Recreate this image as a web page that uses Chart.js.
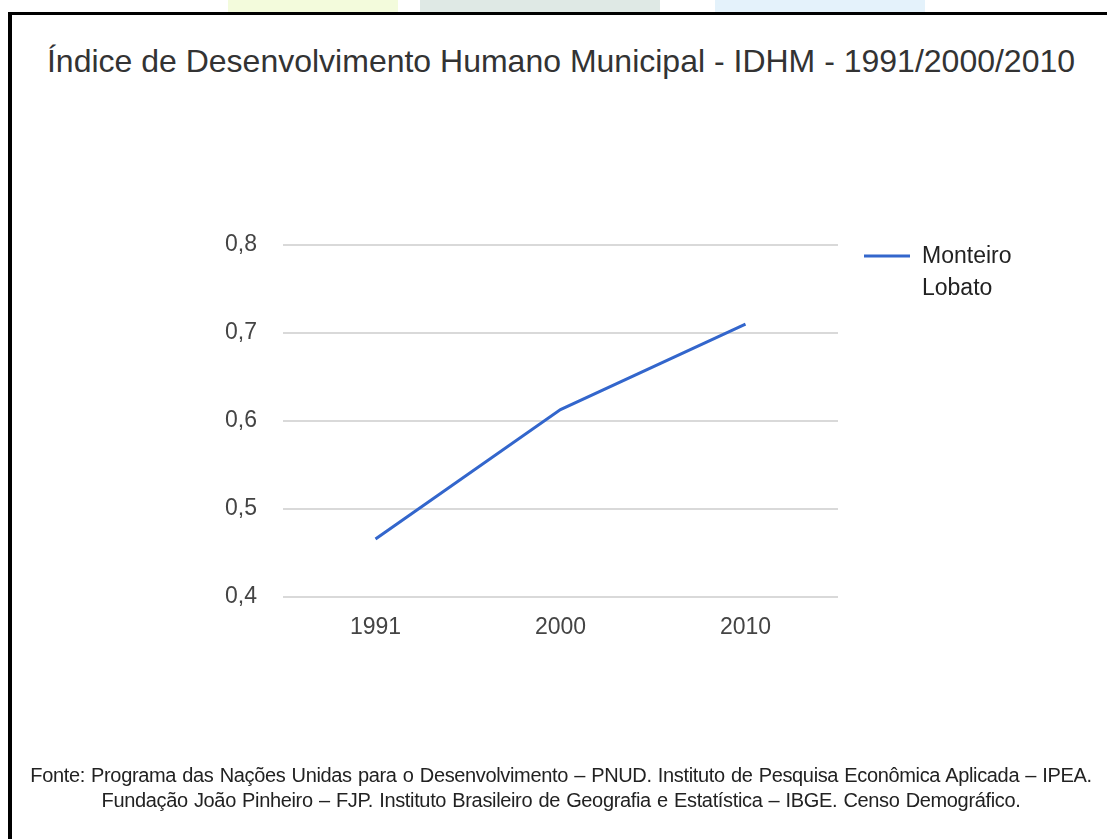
<!DOCTYPE html>
<html lang="pt-BR">

<head>
    <meta charset="UTF-8">
    <title>IDHM - Monteiro Lobato</title>
    <script src="https://cdn.jsdelivr.net/npm/chart.js"></script>
    <style>
        html, body { margin: 0; padding: 0; background: #fff; }
        body { width: 1107px; height: 839px; position: relative; overflow: hidden; font-family: "Liberation Sans", Arial, sans-serif; }
        /* faint shapes peeking above the frame */
        .blob { position: absolute; top: -30px; height: 60px; border-radius: 50% 50% 0 0; }
        .frame { position: absolute; left: 8px; top: 12px; right: 0; bottom: 0; border-top: 3px solid #000; border-left: 4px solid #000; background: #fff; }
        #title { position: absolute; left: 0; width: 1122px; top: 43px; text-align: center; font-size: 32px; line-height: 37px; color: #333; letter-spacing: 0px; }
        #fonte { position: absolute; left: 0; width: 1122px; top: 763px; text-align: center; font-size: 20px; line-height: 25px; color: #222; letter-spacing: -0.35px; word-spacing: 1px; }
        canvas { position: absolute; left: 0; top: 0; }
    </style>
</head>

<body>
    <div class="blob" style="left:228px;width:170px;background:#f3fbdc;"></div>
    <div class="blob" style="left:420px;width:240px;background:#dfe9e5;"></div>
    <div class="blob" style="left:715px;width:210px;background:#e4f2fb;"></div>
    <div class="frame"></div>

    <div id="title">Índice de Desenvolvimento Humano Municipal - IDHM - 1991/2000/2010</div>
    <canvas id="chart" width="1107" height="839"></canvas>
    <div id="fonte">Fonte: Programa das Nações Unidas para o Desenvolvimento – PNUD. Instituto de Pesquisa Econômica Aplicada – IPEA.<br>Fundação João Pinheiro – FJP. Instituto Brasileiro de Geografia e Estatística – IBGE. Censo Demográfico.</div>

    <script>
        // data
        const anos = ['1991', '2000', '2010'];
        const idhm = [0.466, 0.613, 0.710];
        const serieNome = ['Monteiro', 'Lobato'];
        const yTicks = [0.4, 0.5, 0.6, 0.7, 0.8];

        const azul = '#3366cc';
        const fonte = '"Liberation Sans", Arial, sans-serif';

        // legend drawn beside the plot, with the name on two lines
        const legendaLateral = {
            id: 'legendaLateral',
            afterDraw(chart) {
                const ctx = chart.ctx;
                const area = chart.chartArea;
                const x0 = area.right + 26;
                const y0 = area.top + 11;
                ctx.save();
                ctx.strokeStyle = azul;
                ctx.lineWidth = 3;
                ctx.beginPath();
                ctx.moveTo(x0, y0);
                ctx.lineTo(x0 + 46, y0);
                ctx.stroke();
                ctx.fillStyle = '#222';
                ctx.font = '23px ' + fonte;
                ctx.textBaseline = 'middle';
                serieNome.forEach((t, i) => ctx.fillText(t, x0 + 58, y0 + 1 + i * 32));
                ctx.restore();
            }
        };

        new Chart(document.getElementById('chart'), {
            type: 'line',
            data: {
                labels: anos,
                datasets: [{
                    label: serieNome.join(' '),
                    data: idhm,
                    borderColor: azul,
                    backgroundColor: azul,
                    borderWidth: 3,
                    pointRadius: 0,
                    tension: 0
                }]
            },
            options: {
                responsive: false,
                animation: false,
                layout: { padding: { left: 200, right: 269, top: 245, bottom: 192 } },
                plugins: {
                    legend: { display: false },
                    tooltip: { enabled: false }
                },
                scales: {
                    x: {
                        offset: true,
                        grid: { display: false, drawTicks: false },
                        border: { display: false },
                        ticks: { color: '#444', padding: 17, font: { size: 23, family: fonte } },
                        afterFit(s) { s.height = 50; }
                    },
                    y: {
                        min: 0.4,
                        max: 0.8,
                        afterBuildTicks(s) { s.ticks = yTicks.map(v => ({ value: v })); },
                        grid: { color: '#d9d9d9', lineWidth: 2, drawTicks: false },
                        border: { display: false },
                        ticks: {
                            color: '#444',
                            padding: 26,
                            font: { size: 23, family: fonte },
                            callback: v => v.toFixed(1).replace('.', ',')
                        },
                        afterFit(s) { s.width = 83; }
                    }
                }
            },
            plugins: [legendaLateral]
        });
    </script>
</body>

</html>
